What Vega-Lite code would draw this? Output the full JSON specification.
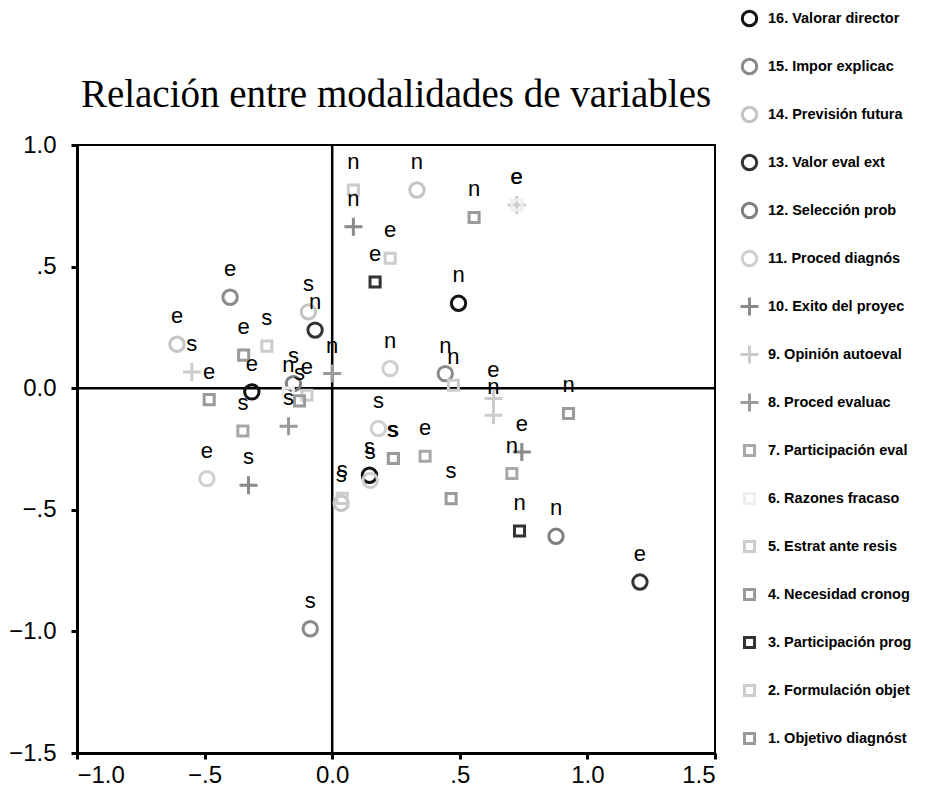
{
  "$schema": "https://vega.github.io/schema/vega-lite/v6.json",
  "autosize": {"type": "none"},
  "width": 638,
  "height": 608,
  "padding": {"left": 77, "top": 145, "right": 211, "bottom": 36},
  "background": "white",
  "title": {
    "text": "Relación entre modalidades de variables",
    "font": "Liberation Serif",
    "fontSize": 39,
    "fontWeight": "normal",
    "color": "black",
    "anchor": "middle",
    "frame": "group",
    "baseline": "alphabetic",
    "offset": 35,
    "dy": 173
  },
  "config": {
    "view": {"stroke": "black", "strokeWidth": 2},
    "axis": {
      "grid": false,
      "title": null,
      "domainColor": "black",
      "domainWidth": 3,
      "tickColor": "black",
      "tickWidth": 3,
      "tickSize": 6,
      "labelFont": "Liberation Sans",
      "labelFontSize": 24,
      "labelColor": "black"
    }
  },
  "datasets": {
    "pts": [
      {"var": "16. Valorar director", "mod": "e", "x": -0.315, "y": -0.015},
      {"var": "16. Valorar director", "mod": "n", "x": 0.495, "y": 0.349},
      {"var": "16. Valorar director", "mod": "s", "x": 0.146, "y": -0.358},
      {"var": "15. Impor explicac", "mod": "e", "x": -0.40, "y": 0.374},
      {"var": "15. Impor explicac", "mod": "n", "x": 0.443, "y": 0.060},
      {"var": "15. Impor explicac", "mod": "s", "x": -0.086, "y": -0.989},
      {"var": "14. Previsión futura", "mod": "e", "x": -0.608, "y": 0.181},
      {"var": "14. Previsión futura", "mod": "n", "x": 0.332, "y": 0.815},
      {"var": "14. Previsión futura", "mod": "s", "x": -0.093, "y": 0.314},
      {"var": "14. Previsión futura", "mod": "s", "x": 0.035, "y": -0.473},
      {"var": "13. Valor eval ext", "mod": "e", "x": 1.206, "y": -0.797},
      {"var": "13. Valor eval ext", "mod": "n", "x": -0.067, "y": 0.239},
      {"var": "12. Selección prob", "mod": "n", "x": 0.877, "y": -0.609},
      {"var": "12. Selección prob", "mod": "s", "x": -0.152, "y": 0.019},
      {"var": "11. Proced diagnós", "mod": "e", "x": -0.491, "y": -0.372},
      {"var": "11. Proced diagnós", "mod": "n", "x": 0.227, "y": 0.081},
      {"var": "11. Proced diagnós", "mod": "s", "x": 0.181, "y": -0.166},
      {"var": "11. Proced diagnós", "mod": "s", "x": 0.149, "y": -0.379},
      {"var": "10. Exito del proyec", "mod": "e", "x": 0.743, "y": -0.262},
      {"var": "10. Exito del proyec", "mod": "n", "x": 0.083, "y": 0.664},
      {"var": "10. Exito del proyec", "mod": "s", "x": -0.328, "y": -0.399},
      {"var": "9. Opinión autoeval", "mod": "e", "x": 0.723, "y": 0.753},
      {"var": "9. Opinión autoeval", "mod": "e", "x": 0.632, "y": -0.042},
      {"var": "9. Opinión autoeval", "mod": "n", "x": 0.632, "y": -0.111},
      {"var": "9. Opinión autoeval", "mod": "s", "x": -0.550, "y": 0.067},
      {"var": "8. Proced evaluac", "mod": "n", "x": 0.0, "y": 0.060},
      {"var": "8. Proced evaluac", "mod": "s", "x": -0.171, "y": -0.156},
      {"var": "7. Participación eval", "mod": "e", "x": 0.364, "y": -0.280},
      {"var": "7. Participación eval", "mod": "n", "x": 0.704, "y": -0.351},
      {"var": "7. Participación eval", "mod": "s", "x": -0.350, "y": -0.176},
      {"var": "6. Razones fracaso", "mod": "e", "x": 0.723, "y": 0.753},
      {"var": "6. Razones fracaso", "mod": "n", "x": -0.172, "y": -0.02},
      {"var": "6. Razones fracaso", "mod": "s", "x": 0.235, "y": -0.288},
      {"var": "5. Estrat ante resis", "mod": "e", "x": -0.099, "y": -0.029},
      {"var": "5. Estrat ante resis", "mod": "n", "x": 0.083, "y": 0.815},
      {"var": "5. Estrat ante resis", "mod": "s", "x": -0.256, "y": 0.173},
      {"var": "4. Necesidad cronog", "mod": "e", "x": -0.482, "y": -0.047},
      {"var": "4. Necesidad cronog", "mod": "n", "x": 0.556, "y": 0.702},
      {"var": "4. Necesidad cronog", "mod": "s", "x": 0.240, "y": -0.289},
      {"var": "3. Participación prog", "mod": "e", "x": 0.168, "y": 0.437},
      {"var": "3. Participación prog", "mod": "n", "x": 0.734, "y": -0.587},
      {"var": "2. Formulación objet", "mod": "e", "x": 0.227, "y": 0.534},
      {"var": "2. Formulación objet", "mod": "n", "x": 0.475, "y": 0.012},
      {"var": "2. Formulación objet", "mod": "s", "x": 0.039, "y": -0.453},
      {"var": "1. Objetivo diagnóst", "mod": "e", "x": -0.347, "y": 0.136},
      {"var": "1. Objetivo diagnóst", "mod": "n", "x": 0.926, "y": -0.104},
      {"var": "1. Objetivo diagnóst", "mod": "s", "x": 0.466, "y": -0.454},
      {"var": "1. Objetivo diagnóst", "mod": "s", "x": -0.128, "y": -0.052}
    ],
    "zero": [{"z": 0}]
  },
  "layer": [
    {
      "data": {"name": "zero"},
      "mark": {"type": "rule", "color": "black", "strokeWidth": 2.5},
      "encoding": {
        "x": {"field": "z", "type": "quantitative", "scale": {"domain": [-1, 1.5], "nice": false, "zero": false}}
      }
    },
    {
      "data": {"name": "zero"},
      "mark": {"type": "rule", "color": "black", "strokeWidth": 2.5},
      "encoding": {
        "y": {"field": "z", "type": "quantitative", "scale": {"domain": [-1.5, 1], "nice": false, "zero": false}}
      }
    },
    {
      "data": {"name": "pts"},
      "mark": {"type": "point", "filled": false, "strokeWidth": 3, "size": 324, "opacity": 1},
      "encoding": {
        "x": {
          "field": "x", "type": "quantitative",
          "scale": {"domain": [-1, 1.5], "nice": false, "zero": false},
          "axis": {
            "values": [-1, -0.5, 0, 0.5, 1, 1.5],
            "labelPadding": 4,
            "labelExpr": "datum.value == -1 ? '−1.0' : datum.value == -0.5 ? '−.5' : datum.value == 0 ? '0.0' : datum.value == 0.5 ? '.5' : datum.value == 1 ? '1.0' : '1.5'"
          }
        },
        "y": {
          "field": "y", "type": "quantitative",
          "scale": {"domain": [-1.5, 1], "nice": false, "zero": false},
          "axis": {
            "values": [-1.5, -1, -0.5, 0, 0.5, 1],
            "labelPadding": 15,
            "labelExpr": "datum.value == -1.5 ? '−1.5' : datum.value == -1 ? '−1.0' : datum.value == -0.5 ? '−.5' : datum.value == 0 ? '0.0' : datum.value == 0.5 ? '.5' : '1.0'"
          }
        },
        "shape": {
          "field": "var", "type": "nominal",
          "scale": {
            "domain": ["16. Valorar director", "15. Impor explicac", "14. Previsión futura", "13. Valor eval ext", "12. Selección prob", "11. Proced diagnós", "10. Exito del proyec", "9. Opinión autoeval", "8. Proced evaluac", "7. Participación eval", "6. Razones fracaso", "5. Estrat ante resis", "4. Necesidad cronog", "3. Participación prog", "2. Formulación objet", "1. Objetivo diagnóst"],
            "range": [
              "M0.8,0A0.8,0.8,0,1,1,-0.8,0A0.8,0.8,0,1,1,0.8,0Z",
              "M0.8,0A0.8,0.8,0,1,1,-0.8,0A0.8,0.8,0,1,1,0.8,0Z",
              "M0.8,0A0.8,0.8,0,1,1,-0.8,0A0.8,0.8,0,1,1,0.8,0Z",
              "M0.8,0A0.8,0.8,0,1,1,-0.8,0A0.8,0.8,0,1,1,0.8,0Z",
              "M0.8,0A0.8,0.8,0,1,1,-0.8,0A0.8,0.8,0,1,1,0.8,0Z",
              "M0.8,0A0.8,0.8,0,1,1,-0.8,0A0.8,0.8,0,1,1,0.8,0Z",
              "M-1,0H1M0,-1V1",
              "M-1,0H1M0,-1V1",
              "M-1,0H1M0,-1V1",
              "M-0.56,-0.56H0.56V0.56H-0.56Z",
              "M-0.56,-0.56H0.56V0.56H-0.56Z",
              "M-0.56,-0.56H0.56V0.56H-0.56Z",
              "M-0.56,-0.56H0.56V0.56H-0.56Z",
              "M-0.56,-0.56H0.56V0.56H-0.56Z",
              "M-0.56,-0.56H0.56V0.56H-0.56Z",
              "M-0.56,-0.56H0.56V0.56H-0.56Z"
            ]
          },
          "legend": {
            "title": null,
            "orient": "none",
            "legendX": 662,
            "legendY": -137,
            "padding": 0,
            "gridAlign": "all",
            "rowPadding": 17,
            "symbolSize": 324,
            "symbolStrokeWidth": 3,
            "labelFont": "Liberation Sans",
            "labelFontWeight": "bold",
            "labelFontSize": 14.5,
            "labelColor": "black",
            "labelOffset": 8,
            "labelLimit": 300
          }
        },
        "color": {
          "field": "var", "type": "nominal",
          "scale": {
            "domain": ["16. Valorar director", "15. Impor explicac", "14. Previsión futura", "13. Valor eval ext", "12. Selección prob", "11. Proced diagnós", "10. Exito del proyec", "9. Opinión autoeval", "8. Proced evaluac", "7. Participación eval", "6. Razones fracaso", "5. Estrat ante resis", "4. Necesidad cronog", "3. Participación prog", "2. Formulación objet", "1. Objetivo diagnóst"],
            "range": ["#111111", "#8a8a8a", "#c4c4c4", "#333333", "#7f7f7f", "#cfcfcf", "#8a8a8a", "#cccccc", "#9a9a9a", "#a8a8a8", "#eeeeee", "#cccccc", "#9a9a9a", "#333333", "#cccccc", "#9a9a9a"]
          },
          "legend": {
            "title": null,
            "orient": "none",
            "legendX": 662,
            "legendY": -137,
            "padding": 0,
            "gridAlign": "all",
            "rowPadding": 17,
            "symbolSize": 324,
            "symbolStrokeWidth": 3,
            "labelFont": "Liberation Sans",
            "labelFontWeight": "bold",
            "labelFontSize": 14.5,
            "labelColor": "black",
            "labelOffset": 8,
            "labelLimit": 300
          }
        }
      }
    },
    {
      "data": {"name": "pts"},
      "mark": {"type": "text", "font": "Liberation Sans", "fontSize": 22, "dy": -28, "color": "black", "baseline": "middle", "align": "center"},
      "encoding": {
        "x": {"field": "x", "type": "quantitative"},
        "y": {"field": "y", "type": "quantitative"},
        "text": {"field": "mod", "type": "nominal"}
      }
    }
  ]
}
